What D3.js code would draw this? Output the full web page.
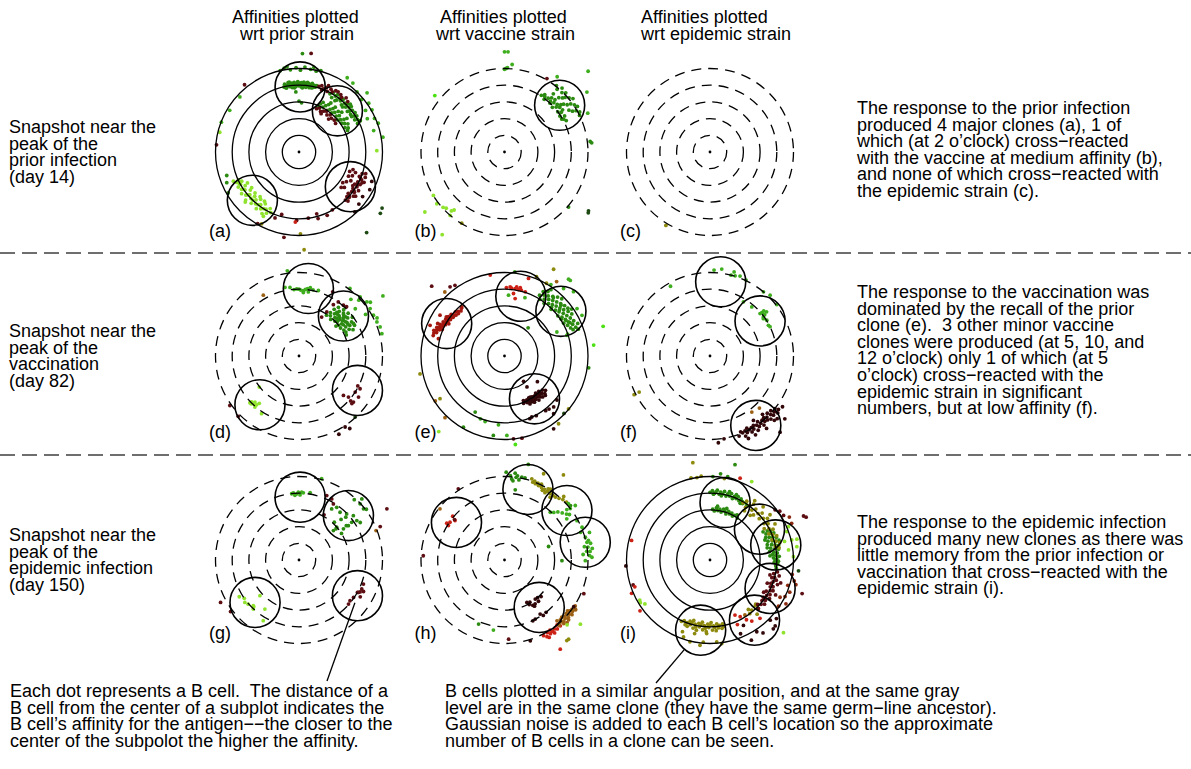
<!DOCTYPE html>
<html>
<head>
<meta charset="utf-8">
<script src="https://cdn.jsdelivr.net/npm/d3@7"></script>
<style>
  body { margin: 0; background: #fff; }
  text { font-family: "Liberation Sans", Arial, Helvetica, sans-serif; font-size: 18px; fill: #000; }
</style>
</head>
<body>
<svg id="chart" width="1191" height="769"></svg>
<script>
// ---------------------------------------------------------------------------
// Data. Each B cell is a point in polar form: [clock angle in degrees
// (0 = 12 o'clock, clockwise), distance from centre in affinity-ring units].
// Each clone circle is given the same way. Dots are grouped by gray level.
// ---------------------------------------------------------------------------

const columnHeaders = [
  ["Affinities plotted", "wrt prior strain"],
  ["Affinities plotted", "wrt vaccine strain"],
  ["Affinities plotted", "wrt epidemic strain"]
];

const rowLabels = [
  ["Snapshot near the", "peak of the", "prior infection", "(day 14)"],
  ["Snapshot near the", "peak of the", "vaccination", "(day 82)"],
  ["Snapshot near the", "peak of the", "epidemic infection", "(day 150)"]
];

const rowNotes = [
  ["The response to the prior infection",
   "produced 4 major clones (a), 1 of",
   "which (at 2 o\u2019clock) cross\u2212reacted",
   "with the vaccine at medium affinity (b),",
   "and none of which cross\u2212reacted with",
   "the epidemic strain (c)."],
  ["The response to the vaccination was",
   "dominated by the recall of the prior",
   "clone (e).  3 other minor vaccine",
   "clones were produced (at 5, 10, and",
   "12 o\u2019clock) only 1 of which (at 5",
   "o\u2019clock) cross\u2212reacted with the",
   "epidemic strain in significant",
   "numbers, but at low affinity (f)."],
  ["The response to the epidemic infection",
   "produced many new clones as there was",
   "little memory from the prior infection or",
   "vaccination that cross\u2212reacted with the",
   "epidemic strain (i)."]
];

const footLeft = [
  "Each dot represents a B cell.  The distance of a",
  "B cell from the center of a subplot indicates the",
  "B cell\u2019s affinity for the antigen\u2212\u2212the closer to the",
  "center of the subpolot the higher the affinity."
];

const footRight = [
  "B cells plotted in a similar angular position, and at the same gray",
  "level are in the same clone (they have the same germ\u2212line ancestor).",
  "Gaussian noise is added to each B cell\u2019s location so the approximate",
  "number of B cells in a clone can be seen."
];

const panelLetters = ["a", "b", "c", "d", "e", "f", "g", "h", "i"];
const solidRingPanels = ["a", "e", "i"];
const ringLevels = [1, 2, 3, 4, 5];

const colors = {
  dkgreen: "#2b8a10", green: "#3fae1e", bright: "#4ae012", lime: "#8fe32c",
  maroon: "#5c0e12", dkmaroon: "#320709", red: "#cc2116", dkred: "#a3170f",
  olive: "#8e8a0e", brown: "#9c6014", dkgreen2: "#1d4a12", rust: "#8a2a10"
};

// clone circles per panel
const clonesA = [[1, 3.9], [43, 3.37], [124, 3.71], [224, 4.02]];
const clonesB = [[49.7, 4.33]];
const clonesC = [];
const clonesD = [[7.9, 4.08], [48, 3.58], [120.5, 4.06], [218.7, 3.74]];
const clonesE = [[299.3, 3.97], [15.3, 3.71], [51.6, 4.31], [145, 3.13]];
const clonesF = [[8.2, 4.49], [55, 3.66], [146.6, 4.98]];
const clonesG = [[1, 3.76], [48, 3.98], [226, 3.66], [121.4, 4.1]];
const clonesH = [[308, 3.65], [18.4, 4.45], [51.6, 4.77], [77.6, 4.95], [143.8, 3.52]];
const clonesI = [[14.7, 3.56], [58.1, 3.49], [77.1, 4.04], [115.3, 3.98], [143.5, 4.48], [187.6, 4.24]];

// B cells per panel: [gray level, [angle, r, angle, r, ...]]
const dotsA = [
  ["dkgreen", [-13,4.0, -12,4.15, -11,3.9, -10,4.05, -9,4.2, -8,3.95, -7,4.1, -6,3.88, -5,4.02, -4,4.18,
    -3,3.92, -2,4.08, -1,4.22, 0,3.96, 1,4.1, 2,3.9, 3,4.04, 4,4.2, 5,3.94, 6,4.08, 7,3.98, 8,4.15, 9,3.9,
    10,4.05, 11,4.18, 12,3.95, 13,4.1, 14,4.0, 15,4.12, -12,3.95, -9,4.05, -6,4.15, -3,4.02, 0,4.12, 3,3.85,
    6,3.9, 9,4.1, 12,4.05, -4,3.85, 5,4.12, -1,3.98, 2,4.15, 7,4.2, 11,3.92, -8,4.22,
    -13,5.0, -10,5.1, -6,4.95, -2,5.05, 1,4.9, 4,5.1, 8,5.0, 12,4.95, 15,5.05, -8,5.15, 10,5.15, 2,5.9,
    0,3.05, 3,2.95, -3,3.6,
    28,3.95, 30,4.1, 31,3.8, 33,4.0, 34,4.15, 36,3.85, 37,4.05, 39,3.95, 40,4.12, 42,3.8, 43,4.0, 45,4.1,
    46,3.88, 48,4.02, 49,4.15, 51,3.9, 52,4.05, 54,3.82, 55,4.1, 57,3.95, 58,4.08, 60,3.85, 61,4.0, 63,4.12,
    64,3.9, 35,3.75, 44,3.75, 50,3.78, 56,3.8, 47,4.2,
    22,3.0, 24,3.15, 26,3.3, 28,3.05, 30,3.2, 32,3.35, 34,3.0, 36,3.15, 38,3.3, 40,3.05, 42,3.2, 44,3.38,
    46,3.1, 48,3.25, 50,3.0, 52,3.15, 54,3.32, 56,3.08, 58,3.22, 60,3.38, 62,3.12, 64,3.28, 66,3.18,
    39,3.45, 47,3.5, 55,3.5, 33,3.5, 247,4.7, 240,4.9, 252,4.55]],
  ["green", [38,5.24, 44,5.0, 50,4.9, 55,5.1, 60,5.05, 66,4.95, 70,5.05, 74,4.65, 80,5.1, 49,5.4, 33,5.3,
    58,4.7, 64,4.55, 301,4.84, 291,4.98, 313,4.84]],
  ["maroon", [17,4.1, 19,4.2, 21,4.05, 23,4.18, 25,4.0, 27,4.22, 29,4.12, 31,4.28, 33,4.3, 36,4.25, 38,4.15,
    41,4.3, 44,4.2, 24,4.35, 20,3.95,
    22,2.8, 25,2.9, 28,2.75, 31,2.85, 34,2.95, 37,2.78, 40,2.9, 44,2.8, 48,2.85, 52,2.78, 30,2.65, 42,2.65,
    108,4.2, 109,4.0, 111,4.25, 112,3.9, 114,4.1, 115,4.3, 117,3.95, 118,4.15, 120,3.85, 121,4.05, 123,4.25,
    124,3.9, 126,4.1, 127,3.95, 129,4.2, 130,3.85, 132,4.05, 133,3.92, 135,4.15, 136,4.0, 113,4.0, 119,4.0,
    125,4.0, 131,4.0, 116,4.2, 122,3.8, 128,4.3,
    108,3.4, 111,3.25, 114,3.5, 116,3.3, 119,3.55, 122,3.35, 125,3.2, 128,3.45, 110,3.6, 130,3.3,
    150,4.0, 156,4.15, 164,3.85, 164,4.15, 172,4.0, 182,4.1, 190,5.19, 195.5,3.88, 200,4.2, 210,4.95,
    321,5.18, 7,5.95, 275,4.96]],
  ["dkmaroon", [112,4.7, 118,4.8, 125,4.65, 131,4.75, 137,4.9]],
  ["lime", [205,4.0, 207,3.8, 208,4.15, 210,3.95, 211,4.3, 213,3.7, 214,4.1, 216,3.9, 217,4.25, 219,3.65,
    220,4.05, 222,3.85, 223,4.2, 225,3.75, 226,4.0, 228,4.3, 229,3.9, 231,4.1, 232,3.7, 234,4.25, 235,3.95,
    237,4.1, 238,3.8, 240,4.2, 241,4.0, 243,3.85, 244,4.15, 245,4.0, 212,4.0, 218,4.0, 224,4.0, 230,4.0,
    236,4.0, 242,4.05, 215,3.6, 221,3.55, 227,3.6, 233,3.55, 239,3.6, 209,4.4, 227,4.4, 246,4.3,
    89,4.66, 284,4.89]],
  ["olive", [179,4.9, 177,5.86, 207.5,4.85]],
  ["red", [183,4.2]],
  ["dkgreen2", [124,6.0, 127,6.1, 140,6.3]]
];

const dotsB = [
  ["dkgreen", [33,4.05, 35,4.2, 37,3.95, 39,4.15, 41,4.3, 43,4.0, 45,4.18, 47,3.92, 49,4.1, 51,4.25, 53,4.0,
    55,4.15, 57,3.95, 59,4.2, 61,4.05, 63,4.15, 36,4.1, 42,4.1, 48,4.25, 54,4.3, 60,3.95, 44,4.35, 50,4.4,
    38,5.05, 40,4.9, 42,5.15, 44,4.95, 46,5.1, 48,4.88, 50,5.05, 52,5.2, 54,4.9, 56,5.05, 58,5.15, 60,4.95,
    62,5.1, 64,5.0, 47,4.75, 53,4.7, 59,4.75, 45,4.6, 51,4.55, 57,4.6, 40,4.55, 83,5.17, 84,5.25, 130.7,5.06]],
  ["green", [0,6.0, 2,6.0, 1,5.0, 0,4.95, 2,5.05, 5,5.26, 46,6.96, 54,6.1, 35,5.5, 65,5.5]],
  ["bright", [309,5.37]],
  ["maroon", [30,5.08]],
  ["dkgreen2", [125,6.14, 126,6.2]],
  ["lime", [238.6,4.99, 232.6,5.1, 228,4.95, 226,4.85, 220.6,5.0, 222,4.75, 221,4.6, 233,5.97, 217,6.2]],
  ["olive", [211,4.97]]
];

const dotsC = [
  ["olive", [211,5.13]]
];

const dotsD = [
  ["green", [-11.6,4.19, -7.5,4.14, -4.3,3.99, 0,4.0, 3.7,3.92, 7.3,4.06, 9.4,4.15, 8.3,3.88, 3.9,3.81,
    16.5,4.09, -2,4.02, 1.5,3.95, 5.5,4.0, 12,4.05, -7.8,5.15,
    37,5.07, 46,5.09, 51.4,5.2, 56.3,5.12, 61.3,5.08, 66.4,5.09, 70.3,5.16, 54.4,6.18, 74.9,5.14, 47,4.9,
    58,4.7, 64,5.2, 53,5.35, 42.5,4.6, 50,4.4]],
  ["dkgreen", [34,2.95, 36,3.2, 37,3.5, 38,3.05, 39,3.75, 40,3.3, 41,2.9, 42,3.6, 43,3.15, 44,3.85, 45,3.4,
    46,3.0, 47,3.65, 48,3.25, 49,3.9, 50,3.45, 51,2.85, 52,3.7, 53,3.2, 54,3.95, 55,3.5, 56,3.0, 57,3.75,
    58,3.3, 59,3.55, 60,3.1, 61,3.8, 62,3.4, 63,3.15, 64,3.6, 66,3.1, 45,3.2, 47,3.35, 49,3.55, 51,3.35,
    53,3.45, 55,3.25, 43,3.4, 41,3.45, 57,3.5, 59,3.8, 48,3.1, 52,3.0, 50,3.65, 46,3.7]],
  ["maroon", [27.7,4.34, 33.8,3.7, 36,4.0, 41.2,4.04, 44,4.1, 32.2,3.12, 30.2,2.7,
    131.6,3.56, 129.7,3.85, 130.2,4.27, 122.7,4.0, 124.6,4.33, 118.2,4.15, 132,4.26, 117,3.95, 131,4.1,
    234.4,5.09, 225.2,5.13]],
  ["dkmaroon", [147,5.07, 153,5.26, 145,5.3]],
  ["dkgreen2", [137.4,4.97]],
  ["lime", [226.4,4.06, 223.8,3.96, 223.7,3.82, 221,3.87, 220,3.7, 220.8,4.04, 213,4.12, 232,3.02, 225,4.05,
    226,3.95]],
  ["brown", [329.6,4.22]]
];

const dotsE = [
  ["dkred", [288,4.45, 289,4.3, 290,4.5, 291,4.35, 292,4.2, 293,4.4, 294,4.25, 295,4.1, 296,4.3, 297,4.15,
    298,4.0, 299,4.2, 300,4.05, 301,3.95, 302,4.15, 303,4.0, 304,3.9, 305,4.1, 306,3.95, 307,3.85, 308,4.05,
    309,3.9, 310,3.8, 312,3.95, 314,3.85, 316,3.75, 318,3.85, 296,4.45, 300,3.85, 304,4.2, 293,4.05,
    292.4,4.82, 286,4.44, 284.7,4.09, 302.3,4.57, 312.6,3.75, 319,3.9]],
  ["red", [4.7,4.15, 9,4.09, 11.9,4.07, 14.3,4.07, 8.2,3.78, 10.5,3.5, 17.9,4.04, 6,4.08, 1.6,4.1, 17.2,4.86,
    13,4.2, 10,4.2, 350,4.92]],
  ["dkgreen", [30,4.2, 31,4.5, 32,4.0, 33,4.35, 34,4.65, 35,4.15, 36,4.45, 37,3.95, 38,4.3, 39,4.6, 40,4.1,
    41,4.4, 42,4.75, 43,4.2, 44,4.5, 45,3.95, 46,4.3, 47,4.6, 48,4.1, 49,4.4, 50,4.7, 51,4.2, 52,4.5, 53,4.0,
    54,4.35, 55,4.65, 56,4.15, 57,4.45, 58,4.75, 59,4.25, 60,4.55, 61,4.05, 62,4.35, 63,4.65, 64,4.2, 65,4.5,
    66,4.8, 67,4.3, 68,4.6, 69,4.4, 70,4.7, 35,4.85, 45,4.85, 55,4.9, 40,4.55, 50,4.3, 60,4.25, 44,4.05,
    48,4.55, 53,4.75, 57,4.05, 63,4.4, 40,2.2, 207.6,3.79, 210,4.92, 188,4.8, 98,5.09]],
  ["green", [41,6.0, 41.2,5.37, 47,5.65, 56.8,5.19, 62.3,5.24, 65.4,3.45, 71,4.0, 71.7,3.94, 33,5.1,
    3.8,3.65, 19.3,3.7, 7,5.08, 39.8,5.99, 201,4.03, 196.5,4.09, 185,4.14, 178.3,4.76]],
  ["bright", [173,5.34, 83,5.38]],
  ["lime", [221,6.0]],
  ["dkmaroon", [130,3.2, 132,3.05, 133,3.3, 135,3.15, 136,2.95, 137,3.35, 138,3.1, 139,3.25, 140,2.9,
    141,3.15, 142,3.35, 143,3.0, 144,3.2, 145,3.1, 146,2.95, 147,3.3, 148,3.1, 149,3.2, 150,2.9, 151,3.05,
    152,3.25, 153,2.95, 154,3.1, 155,3.0, 157,2.9, 140,3.1, 144,3.0, 148,2.9, 136,3.15, 152,3.1, 146,3.15,
    134,3.4, 158,3.05, 155.9,4.0, 136,4.24, 143,4.1, 152,4.05, 140,4.15, 130,4.1, 158,4.05, 143,1.9,
    144,2.29, 128,2.5, 139.6,4.54, 146,5.26]],
  ["maroon", [173.8,4.99, 168,5.03, 313.8,6.04, 321.8,5.27, 325,5.17]],
  ["dkgreen2", [134,4.95]],
  ["olive", [141.4,5.19, 129.5,4.97, 236.5,4.63, 258,5.17, 29.5,5.97, 22,5.12, 30,5.03]],
  ["brown", [224,5.13, 237,4.94, 317,5.24, 35,5.44]]
];

const dotsF = [
  ["green", [2.7,5.15, 7.7,5.25, 16,5.24, 14.6,5.0, 17.4,5.03, 20.6,5.11, 25.4,5.03,
    40.4,3.86, 49.7,3.93, 50,4.05, 52.2,4.08, 53,4.1, 52,4.3, 53.8,3.96, 57.8,4.02, 62.3,3.95, 64,4.0,
    31.7,3.81, 55,3.9, 50,4.2, 39.8,5.0, 44.7,5.12, 52.4,5.05, 330.5,4.8]],
  ["bright", [285.5,6.64]],
  ["brown", [143.3,4.19, 136.5,4.3]],
  ["dkmaroon", [128,5.2, 129,5.0, 130,5.3, 131,5.1, 132,4.9, 133,5.2, 134,5.05, 135,4.85, 136,5.25, 137,5.0,
    138,5.15, 139,4.9, 140,5.1, 141,4.95, 142,5.25, 143,5.05, 144,4.85, 145,5.15, 146,5.0, 147,5.3, 148,4.9,
    149,5.1, 150,4.95, 151,5.2, 152,5.0, 153,4.85, 154,5.1, 155,4.95, 156,5.25, 157,5.0, 158,4.9, 160,5.1,
    135,5.45, 142,5.5, 150,5.45, 138,4.7, 146,4.65, 133,5.5, 155,5.45, 125,5.3,
    174.5,5.22, 170.4,5.03, 137.4,6.2, 130,5.85]],
  ["olive", [243,5.1, 243,4.76]]
];

const dotsG = [
  ["green", [-4.8,4.03, -2,3.96, -0.6,4.06, 0.9,3.9, 3.7,4.03, 9.4,4.09, -3.6,3.88, 2.3,4.06, 15.6,5.05,
    -6.3,3.99]],
  ["dkgreen", [32.6,3.63, 35.6,3.88, 40.7,3.77, 46,3.97, 50.8,4.2, 55.7,4.19, 54.4,3.88, 55.2,3.6, 55,3.25,
    49,2.99, 49.5,2.71, 58,3.0, 45.8,5.25, 47.4,4.97, 51.6,4.93, 53,5.05, 42.5,4.9, 54,3.5, 50,2.9,
    58.5,4.3, 43,3.1, 46,3.5, 47.5,3.8]],
  ["maroon", [23.3,4.2, 28.2,4.15, 31.5,3.94, 29,3.09, 59.8,6.09, 67.6,5.26,
    131.7,3.97, 128.6,3.91, 124.5,3.96, 118.6,4.05, 117.6,4.13, 114.8,4.14, 110.5,4.12, 116,4.3, 121,4.28,
    119,4.0, 241.6,5.34, 233,5.13]],
  ["brown", [69.1,4.94]],
  ["lime", [238.4,4.2, 231.9,4.12, 229,4.03, 225,3.87, 223,4.02, 224,3.9, 227.6,3.17, 210.5,4.22,
    214.8,3.58, 235,4.0]]
];

const dotsH = [
  ["red", [310.2,4.06, 308.6,3.79, 304.7,3.97, 301.5,3.94, 302.5,4.1,
    152.7,5.1, 151,5.25, 149.5,5.05, 148,5.2, 147,5.0, 145.5,5.3, 144,5.1, 142.5,5.2, 141,5.0, 139.7,5.17,
    150,5.35, 146,5.15, 148,6.3]],
  ["brown", [308.4,4.93,
    139.2,4.81, 138,5.0, 137,4.9, 136,5.1, 135,4.85, 134,5.05, 133,4.95, 132,5.15, 131,4.9, 130,5.05,
    129,5.2, 128,4.95, 127,5.1, 126,5.0, 125,5.2, 124.7,5.16, 123,5.05, 137,5.2, 133,5.25, 129,4.85,
    140,5.1, 135,5.3]],
  ["dkgreen", [1.1,5.26, 7,5.24, 8.8,5.1, 11.8,5.07, 14,5.07, 5.1,4.87, 6.1,4.77, 8.7,4.25, 4,5.06,
    14,5.9, 10.2,4.87, 8,5.0, 50.5,5.12, 202,4.14, 73,2.76, 90.7,3.44]],
  ["olive", [18.6,5.13, 20,4.96, 22,4.93, 24.5,4.9, 27,4.88, 29.5,4.86, 32,4.85, 34.5,4.84, 37,4.83,
    24.4,5.67, 34.7,6.2, 21,5.05, 23.5,5.02, 31,4.7, 31.5,5.0, 36,4.65, 39,4.85, 41.5,4.93, 44,5.03,
    47,5.07, 43,5.2, 26,5.05, 28.5,4.75, 33,5.05, 142.3,6.1, 141,6.1]],
  ["green", [43.8,3.96, 48,4.3, 50.8,4.46, 53.5,4.62, 51,4.8, 48.5,5.1, 52.4,5.35, 56.5,4.47, 46,4.1,
    55,4.75, 52,5.0,
    61.5,4.94, 67.1,5.04, 74.3,5.03, 77.9,5.05, 81.2,5.06, 84.3,5.15, 88.2,5.24, 90.5,4.84, 76.8,5.16,
    72,5.35, 80.5,4.85, 82.5,5.3, 84,4.95, 86,4.72, 87,5.1, 70,4.85, 79,5.25, 189,4.25]],
  ["lime", [130.2,5.95, 136,5.4]],
  ["dkmaroon", [152.2,2.87, 151,3.05, 141.8,2.98, 138.7,3.0, 140.5,3.2, 148,3.2, 147,3.3, 135,3.1,
    146.6,3.88, 145,4.05, 141.5,4.0, 152.5,3.99, 155,4.02, 149,2.95, 145,3.2, 124,5.0, 162.3,5.08]],
  ["maroon", [327,5.08, 273,4.87, 177,4.75, 113,5.16, 309,3.85]]
];

const dotsI = [
  ["dkgreen", [0,4.05, 2,4.15, 3,3.95, 5,4.1, 6,4.2, 8,3.98, 9,4.12, 11,4.02, 12,4.2, 14,3.95, 15,4.1,
    17,4.0, 18,4.18, 20,3.92, 21,4.08, 23,4.0, 24,4.15, 26,3.95, 27,4.1, 29,4.0, 30,3.9, 32,4.05, 34,3.95,
    4,4.0, 10,3.9, 16,4.25, 22,4.22, 28,3.85,
    3,3.05, 5,2.95, 7,3.15, 9,3.0, 11,3.1, 13,2.95, 15,3.15, 17,3.05, 19,2.92, 21,3.12, 23,3.0, 25,3.1,
    27,2.95, 29,3.05, 31,3.15, 33,3.0, 8,3.25, 18,3.25,
    62,3.6, 63,3.85, 64,4.05, 65,3.7, 66,3.95, 67,4.15, 68,3.6, 69,3.8, 70,4.0, 71,4.2, 72,3.65, 73,3.9,
    74,4.1, 75,3.55, 76,3.8, 77,4.0, 78,4.2, 79,3.7, 80,3.95, 81,4.15, 82,3.6, 83,3.85, 84,4.05, 85,3.75,
    86,3.95, 87,4.15, 88,3.8, 89,4.0, 90,3.9, 91,4.1, 92,3.85, 93,4.05, 95,3.95, 97,4.0, 70,3.5, 78,3.5,
    86,3.6, 74,4.3, 2,5.0, 7,5.2, 12,5.1, 14.7,5.9]],
  ["olive", [30,3.95, 32,4.15, 34,3.8, 36,4.05, 38,4.25, 40,3.9, 42,4.1, 44,3.75, 46,4.0, 48,4.2, 50,3.85,
    52,4.05, 54,4.25, 56,3.9, 58,4.1, 60,3.75, 62,4.0, 64,4.2, 66,3.85, 68,4.05, 70,4.25, 72,3.9, 74,4.1,
    76,4.3, 78,4.0, 80,4.2, 37,4.45, 45,4.5, 53,4.5, 61,4.45, 42,3.6, 35,3.6,
    142.2,3.75, 140.2,3.9, 135,3.85, 143.5,4.0, 139,4.3, 134,3.8,
    168,4.05, 169,3.9, 170,4.15, 172,3.95, 173,4.1, 174,3.85, 176,4.05, 177,3.95, 178,4.2, 180,3.9,
    181,4.05, 182,3.85, 184,4.1, 185,3.95, 186,4.2, 188,3.9, 189,4.05, 190,3.85, 192,4.1, 193,3.95, 194,4.2,
    196,3.9, 197,4.05, 198,3.85, 200,4.0, 201,4.15, 203,3.95, 205,4.05, 175,4.25, 183,4.3, 191,4.28,
    199,4.2, 179,3.75, 187,3.75, 195,3.75,
    199,4.87, 193.8,5.04, 186.7,5.14, 184.7,4.94, 175.3,4.92, 172,5.05, 191.8,4.5, 182.6,4.41, 201,4.6,
    350,5.92, 347,5.05, 351,5.0, 354,5.05, 10,4.95]],
  ["lime", [69.7,4.9, 76.2,5.04, 81.3,5.26, 82.7,4.74, 87.7,5.0, 67,5.1, 76.5,5.35, 76,4.6,
    28,5.32, 240.3,4.84, 238.5,4.89, 236,4.7, 134.7,6.19]],
  ["maroon", [100,4.1, 102,3.9, 103,4.25, 105,4.0, 106,3.85, 107,4.15, 109,4.0, 110,4.3, 111,3.9, 113,4.1,
    114,3.95, 116,4.2, 117,4.05, 119,3.85, 120,4.15, 122,4.0, 123,4.25, 125,3.9, 126,4.1, 128,3.95, 129,4.2,
    131,4.05, 133,3.9, 135,4.1, 104,3.7, 112,3.7, 121,3.75, 108,4.45, 118,4.45,
    64.8,6.19, 66,6.3, 110,5.87, 252,4.84, 52.4,4.92, 55,5.1, 58.8,5.15]],
  ["rust", [100,5.0, 104,5.2, 108,4.9, 112,5.15, 116,5.0, 120,5.25, 124,4.95, 106,5.35, 118,4.75,
    61.6,5.4, 65.8,5.36]],
  ["red", [155.6,3.62, 152,3.85, 157,4.2, 148.6,4.19, 145.6,4.43, 139.4,4.6, 20.2,5.22,
    284,4.84, 250.4,4.78, 247,5.1, 234,5.18]],
  ["dkmaroon", [152.9,4.4, 146.9,5.13, 144,5.4, 135,5.1, 131.4,5.3, 135.3,5.55, 157.5,4.78, 152.7,5.4,
    137.4,5.6, 266,5.05]],
  ["brown", [147.6,3.9]],
  ["dkgreen2", [97,5.34]]
];

const panelClones = [clonesA, clonesB, clonesC, clonesD, clonesE, clonesF, clonesG, clonesH, clonesI];
const panelDots = [dotsA, dotsB, dotsC, dotsD, dotsE, dotsF, dotsG, dotsH, dotsI];

// pointers from the explanatory text to clone (g, 4 o'clock) and clone (i, 7 o'clock)
const pointers = [
  { panel: "g", clone: 3, from: 0.3, to: [327, 681] },
  { panel: "i", clone: 5, from: 1.0, to: [656, 683] }
];

// ---------------------------------------------------------------------------
// Layout and scales
// ---------------------------------------------------------------------------
const svg = d3.select("#chart");
const col = d3.scalePoint().domain([0, 1, 2]).range([299, 710]);
const row = d3.scalePoint().domain([0, 1, 2]).range([152, 560]);
const rScale = d3.scaleLinear().domain([0, 5]).range([0, 83.5]);
const cloneRadius = 1.5;

function polar(cx, cy, deg, r) {
  const a = deg * Math.PI / 180;
  return [cx + rScale(r) * Math.sin(a), cy - rScale(r) * Math.cos(a)];
}

function panelCentre(i) {
  return [col(i % 3), row(Math.floor(i / 3))];
}

// column headers
const headerX = [[232, 240], [440, 436], [641, 641]];
columnHeaders.forEach((lines, c) => {
  lines.forEach((t, k) => {
    svg.append("text").attr("x", headerX[c][k]).attr("y", 23 + k * 17).text(t);
  });
});

// row separators
[253, 455].forEach(y => {
  svg.append("line").attr("x1", 0).attr("x2", 1191).attr("y1", y).attr("y2", y)
    .attr("stroke", "#6e6e6e").attr("stroke-width", 1.8).attr("stroke-dasharray", "15,7");
});

// panels
panelLetters.forEach((id, i) => {
  const [cx, cy] = panelCentre(i);
  const g = svg.append("g").attr("class", "panel-" + id);

  // B cells
  panelDots[i].forEach(([shade, flat]) => {
    const pts = d3.range(0, flat.length, 2).map(k => polar(cx, cy, flat[k], flat[k + 1]));
    g.selectAll(null).data(pts).enter().append("circle")
      .attr("cx", d => d[0]).attr("cy", d => d[1]).attr("r", 1.9)
      .attr("fill", colors[shade]);
  });

  // affinity rings
  const solid = solidRingPanels.includes(id);
  g.selectAll(null).data(ringLevels).enter().append("circle")
    .attr("cx", cx).attr("cy", cy).attr("r", d => rScale(d))
    .attr("fill", "none").attr("stroke", "#000").attr("stroke-width", 1.3)
    .attr("stroke-dasharray", solid ? null : "10,7");

  g.append("circle").attr("cx", cx).attr("cy", cy).attr("r", 1.4).attr("fill", "#000");

  // clone circles
  g.selectAll(null).data(panelClones[i]).enter().append("circle")
    .attr("cx", d => polar(cx, cy, d[0], d[1])[0])
    .attr("cy", d => polar(cx, cy, d[0], d[1])[1])
    .attr("r", rScale(cloneRadius))
    .attr("fill", "none").attr("stroke", "#000").attr("stroke-width", 1.6);

  // panel letter
  const letterY = [237, 438, 639][Math.floor(i / 3)];
  g.append("text").attr("x", cx - 90).attr("y", letterY).text("(" + id + ")");
});

// pointer lines
pointers.forEach(p => {
  const i = panelLetters.indexOf(p.panel);
  const [cx, cy] = panelCentre(i);
  const c = panelClones[i][p.clone];
  const [ox, oy] = polar(cx, cy, c[0], c[1]);
  const dx = p.to[0] - ox, dy = p.to[1] - oy;
  const len = Math.hypot(dx, dy);
  const start = rScale(cloneRadius) * p.from;
  svg.append("line")
    .attr("x1", ox + dx / len * start).attr("y1", oy + dy / len * start)
    .attr("x2", p.to[0]).attr("y2", p.to[1])
    .attr("stroke", "#000").attr("stroke-width", 1.3);
});

// row labels and notes
function block(lines, x, y0, pitch) {
  lines.forEach((t, k) => {
    svg.append("text").attr("x", x).attr("y", y0 + k * pitch).attr("xml:space", "preserve")
      .style("white-space", "pre").text(t);
  });
}
const pitch = 16.6;
rowLabels.forEach((lines, r) => block(lines, 9, row(r) - 19, pitch));
block(rowNotes[0], 857, 114, pitch);
block(rowNotes[1], 857, 298, pitch);
block(rowNotes[2], 857, 528, pitch);
block(footLeft, 10, 697, pitch);
block(footRight, 445, 697, pitch);
</script>
</body>
</html>
